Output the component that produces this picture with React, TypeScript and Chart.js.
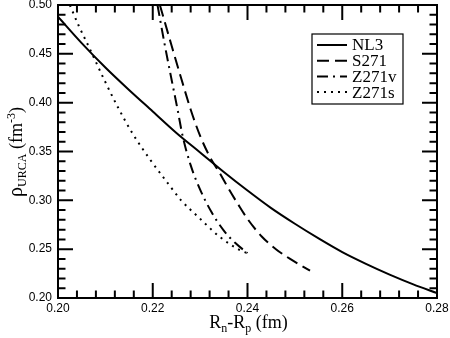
import React, { useEffect, useRef } from 'react';
import { Chart, registerables } from 'chart.js';

Chart.register(...registerables);

// ---- data ----
const NL3_X = [0.200, 0.205, 0.210, 0.215, 0.220, 0.225, 0.230, 0.235, 0.240, 0.245, 0.250, 0.255, 0.260, 0.265, 0.270, 0.275, 0.280];
const NL3_Y = [0.488, 0.461, 0.436, 0.413, 0.391, 0.369, 0.349, 0.329, 0.310, 0.292, 0.276, 0.261, 0.247, 0.235, 0.224, 0.214, 0.205];

const S271_X = [0.2215, 0.224, 0.226, 0.228, 0.230, 0.232, 0.234, 0.236, 0.238, 0.240, 0.243, 0.246, 0.249, 0.2532];
const S271_Y = [0.500, 0.458, 0.425, 0.393, 0.366, 0.345, 0.329, 0.312, 0.296, 0.281, 0.263, 0.250, 0.240, 0.228];

const Z271V_X = [0.2210, 0.2225, 0.2240, 0.2252, 0.2263, 0.2280, 0.2300, 0.2324, 0.2350, 0.2375, 0.2400];
const Z271V_Y = [0.500, 0.460, 0.423, 0.394, 0.366, 0.336, 0.311, 0.288, 0.269, 0.256, 0.246];

const Z271S_X = [0.2025, 0.2044, 0.2065, 0.2099, 0.2127, 0.2158, 0.2194, 0.2232, 0.2260, 0.2296, 0.2341, 0.2384, 0.2405];
const Z271S_Y = [0.500, 0.4785, 0.4573, 0.422, 0.3948, 0.368, 0.342, 0.3174, 0.300, 0.283, 0.2628, 0.249, 0.245];

const SERIES_LABELS = ['NL3', 'S271', 'Z271v', 'Z271s'];

const X_TICKS = [0.20, 0.22, 0.24, 0.26, 0.28];
const Y_TICKS = [0.20, 0.25, 0.30, 0.35, 0.40, 0.45, 0.50];
const X_MINOR_STEP = 0.004;
const Y_MINOR_STEP = 0.01;

const SERIF = '"Liberation Serif", "Times New Roman", serif';
const SANS = '"Liberation Sans", Arial, sans-serif';

type Seg = { text: string; size: number; dy: number };

function drawRich(ctx: CanvasRenderingContext2D, segs: Seg[], x: number, y: number) {
  const widths: number[] = [];
  let total = 0;
  segs.forEach((s) => {
    ctx.font = `${s.size}px ${SERIF}`;
    const w = ctx.measureText(s.text).width;
    widths.push(w);
    total += w;
  });
  let cx = x - total / 2;
  segs.forEach((s, i) => {
    ctx.font = `${s.size}px ${SERIF}`;
    ctx.fillText(s.text, cx, y + s.dy);
    cx += widths[i];
  });
}

const framePlugin = {
  id: 'frame',
  afterDraw(chart: any) {
    const { ctx, chartArea: a, scales } = chart;
    const xs = scales.x;
    const ys = scales.y;
    const MAJOR = 15;
    const MINOR = 7.5;
    ctx.save();
    ctx.strokeStyle = '#000';
    ctx.fillStyle = '#000';

    // ticks
    ctx.lineWidth = 2;
    ctx.beginPath();
    const xMin = X_TICKS[0];
    const xMax = X_TICKS[X_TICKS.length - 1];
    const nx = Math.round((xMax - xMin) / X_MINOR_STEP);
    for (let i = 0; i <= nx; i++) {
      const v = xMin + i * X_MINOR_STEP;
      const px = xs.getPixelForValue(v);
      const isMajor = X_TICKS.some((t) => Math.abs(t - v) < 1e-9);
      const len = isMajor ? MAJOR : MINOR;
      ctx.moveTo(px, a.bottom);
      ctx.lineTo(px, a.bottom - len);
      ctx.moveTo(px, a.top);
      ctx.lineTo(px, a.top + len);
    }
    const yMin = Y_TICKS[0];
    const yMax = Y_TICKS[Y_TICKS.length - 1];
    const ny = Math.round((yMax - yMin) / Y_MINOR_STEP);
    for (let i = 0; i <= ny; i++) {
      const v = yMin + i * Y_MINOR_STEP;
      const py = ys.getPixelForValue(v);
      const isMajor = Y_TICKS.some((t) => Math.abs(t - v) < 1e-9);
      const len = isMajor ? MAJOR : MINOR;
      ctx.moveTo(a.left, py);
      ctx.lineTo(a.left + len, py);
      ctx.moveTo(a.right, py);
      ctx.lineTo(a.right - len, py);
    }
    ctx.stroke();

    // frame
    ctx.lineWidth = 2;
    ctx.strokeRect(a.left, a.top, a.right - a.left, a.bottom - a.top);

    // x title
    ctx.textBaseline = 'alphabetic';
    ctx.textAlign = 'left';
    drawRich(
      ctx,
      [
        { text: 'R', size: 18, dy: 0 },
        { text: 'n', size: 12, dy: 4 },
        { text: '-R', size: 18, dy: 0 },
        { text: 'p', size: 12, dy: 4 },
        { text: ' (fm)', size: 18, dy: 0 },
      ],
      (a.left + a.right) / 2 + 1,
      328
    );

    // y title
    ctx.save();
    ctx.translate(22, 152);
    ctx.rotate(-Math.PI / 2);
    drawRich(
      ctx,
      [
        { text: 'ρ', size: 20, dy: 0 },
        { text: 'URCA', size: 12, dy: 4 },
        { text: ' (fm', size: 18, dy: 0 },
        { text: '-3', size: 12, dy: -7 },
        { text: ')', size: 18, dy: 0 },
      ],
      0,
      0
    );
    ctx.restore();

    // legend
    const lx = 312, ly = 34, lw = 91, lh = 70;
    ctx.fillStyle = '#fff';
    ctx.fillRect(lx, ly, lw, lh);
    ctx.lineWidth = 1.2;
    ctx.strokeStyle = '#000';
    ctx.strokeRect(lx, ly, lw, lh);
    ctx.fillStyle = '#000';
    ctx.font = `17px ${SERIF}`;
    ctx.textBaseline = 'middle';
    chart.data.datasets.forEach((ds: any, i: number) => {
      const yy = 45 + i * 15.7;
      ctx.save();
      ctx.lineWidth = 2;
      ctx.setLineDash(ds.borderDash || []);
      ctx.beginPath();
      ctx.moveTo(317, yy);
      ctx.lineTo(347, yy);
      ctx.stroke();
      ctx.restore();
      ctx.fillText(ds.label, 352, yy + 1);
    });

    ctx.restore();
  },
};

function pts(xs: number[], ys: number[]) {
  return xs.map((x, i) => ({ x, y: ys[i] }));
}

export default function App() {
  const ref = useRef<HTMLCanvasElement | null>(null);
  useEffect(() => {
    if (!ref.current) return;
    const common = {
      borderColor: '#000',
      backgroundColor: '#000',
      borderWidth: 2,
      pointRadius: 0,
      fill: false,
      cubicInterpolationMode: 'monotone' as const,
    };
    const chart = new Chart(ref.current, {
      type: 'line',
      data: {
        datasets: [
          { ...common, label: SERIES_LABELS[0], data: pts(NL3_X, NL3_Y), borderDash: [] },
          { ...common, label: SERIES_LABELS[1], data: pts(S271_X, S271_Y), borderDash: [12, 6] },
          { ...common, label: SERIES_LABELS[2], data: pts(Z271V_X, Z271V_Y), borderDash: [11, 5, 2, 5] },
          { ...common, label: SERIES_LABELS[3], data: pts(Z271S_X, Z271S_Y), borderDash: [2, 5] },
        ],
      },
      options: {
        responsive: false,
        animation: false,
        layout: { padding: { left: 0, right: 13, top: 5, bottom: 0 } },
        plugins: { legend: { display: false }, tooltip: { enabled: false } },
        scales: {
          x: {
            type: 'linear',
            min: X_TICKS[0],
            max: X_TICKS[X_TICKS.length - 1],
            grid: { display: false, drawTicks: false },
            border: { display: false },
            afterBuildTicks: (s: any) => {
              s.ticks = X_TICKS.map((v) => ({ value: v }));
            },
            afterFit: (s: any) => {
              s.height = 40;
              s.paddingLeft = 0;
              s.paddingRight = 0;
            },
            ticks: {
              autoSkip: false,
              maxRotation: 0,
              padding: 3,
              color: '#000',
              font: { family: SANS, size: 12 },
              callback: (v: any) => Number(v).toFixed(2),
            },
          },
          y: {
            type: 'linear',
            min: Y_TICKS[0],
            max: Y_TICKS[Y_TICKS.length - 1],
            grid: { display: false, drawTicks: false },
            border: { display: false },
            afterBuildTicks: (s: any) => {
              s.ticks = Y_TICKS.map((v) => ({ value: v }));
            },
            afterFit: (s: any) => {
              s.width = 58;
              s.paddingTop = 0;
              s.paddingBottom = 0;
            },
            ticks: {
              autoSkip: false,
              padding: 6,
              color: '#000',
              font: { family: SANS, size: 12 },
              callback: (v: any) => Number(v).toFixed(2),
            },
          },
        },
      },
      plugins: [framePlugin],
    } as any);
    return () => chart.destroy();
  }, []);
  return (
    <div style={{ position: 'fixed', left: 0, top: 0, width: 450, height: 338, background: '#fff' }}>
      <canvas ref={ref} width={450} height={338} style={{ display: 'block', width: 450, height: 338 }} />
    </div>
  );
}
